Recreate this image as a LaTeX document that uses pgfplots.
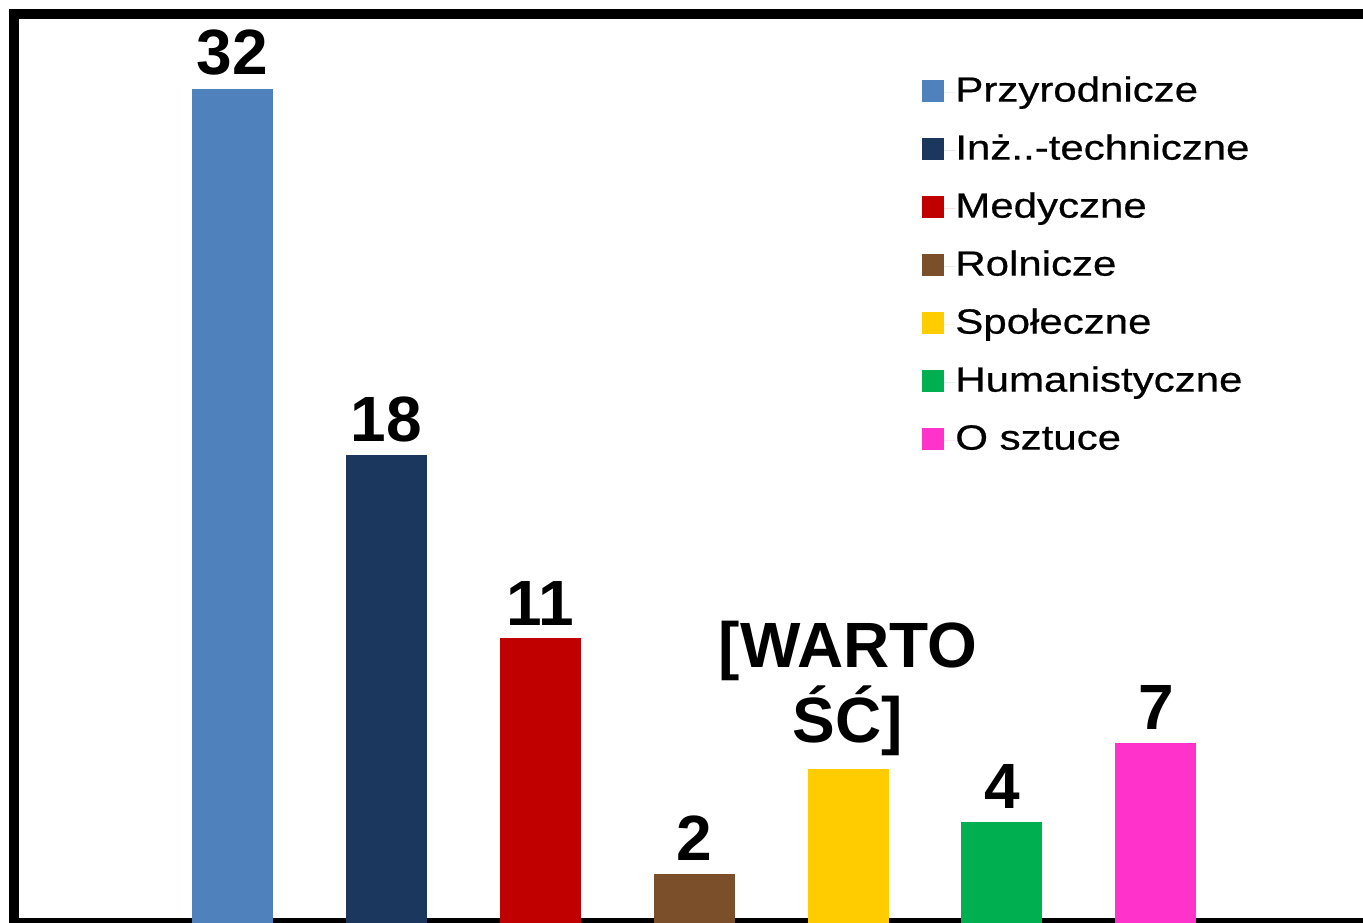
\documentclass[border=0pt]{standalone}
\usepackage{pgfplots}
\pgfplotsset{compat=1.18}
\usepackage{fontspec}
\setmainfont{Liberation Sans}
\newfontfamily\legfont[FakeStretch=1.2,FakeBold=0.6]{Liberation Sans}
\definecolor{cBlue}{HTML}{4F81BD}
\definecolor{cNavy}{HTML}{1B375E}
\definecolor{cRed}{HTML}{C00000}
\definecolor{cBrown}{HTML}{7B4F2A}
\definecolor{cYellow}{HTML}{FFCC00}
\definecolor{cGreen}{HTML}{00B050}
\definecolor{cPink}{HTML}{FF33CC}
\begin{document}
\begin{tikzpicture}
\clip (0,0) rectangle (681.5pt,461pt);
\fill[white] (0,0) rectangle (681.5pt,461pt);
\draw[line width=5pt] (7pt,-0.5pt) rectangle (687pt,453.75pt);
\begin{axis}[
  at={(7pt,-2.15pt)}, anchor=south west,
  scale only axis, width=680pt, height=455.9pt,
  xmin=-1.416, xmax=7.416, ymin=0, ymax=34.84,
  hide axis, clip=false,
  ybar, bar width=40.5pt, bar shift=0pt,
  every axis plot/.append style={draw=none},
  nodes near coords,
  /pgf/number format/assume math mode=true,
  every node near coord/.append style={font=\fontsize{32}{37.5}\selectfont\bfseries, text=black, anchor=south, inner sep=6.5pt, align=center},
  legend style={at={(0.6676,0.9334)}, anchor=north west, draw=none, fill=none, inner sep=0pt,
    font=\legfont\fontsize{17.5}{21}\selectfont, row sep=12pt,
    nodes={inner sep=0pt, text height=13pt, text depth=4pt}},
  legend cell align=left,
  legend image code/.code={\fill[#1] (0pt,-4.75pt) rectangle (11pt,6.25pt); \path (0pt,0pt) -- (16.5pt,0pt);},
]
\addplot[fill=cBlue] coordinates {(0,32)};
\addlegendentry{Przyrodnicze}
\addplot[fill=cNavy] coordinates {(1,18)};
\addlegendentry{Inż..-techniczne}
\addplot[fill=cRed] coordinates {(2,11)};
\addlegendentry{Medyczne}
\addplot[fill=cBrown] coordinates {(3,2)};
\addlegendentry{Rolnicze}
\addplot[fill=cYellow, nodes near coords={[WARTO\\ŚĆ]}] coordinates {(4,6)};
\addlegendentry{Społeczne}
\addplot[fill=cGreen] coordinates {(5,4)};
\addlegendentry{Humanistyczne}
\addplot[fill=cPink] coordinates {(6,7)};
\addlegendentry{O sztuce}
\end{axis}
\end{tikzpicture}
\end{document}
